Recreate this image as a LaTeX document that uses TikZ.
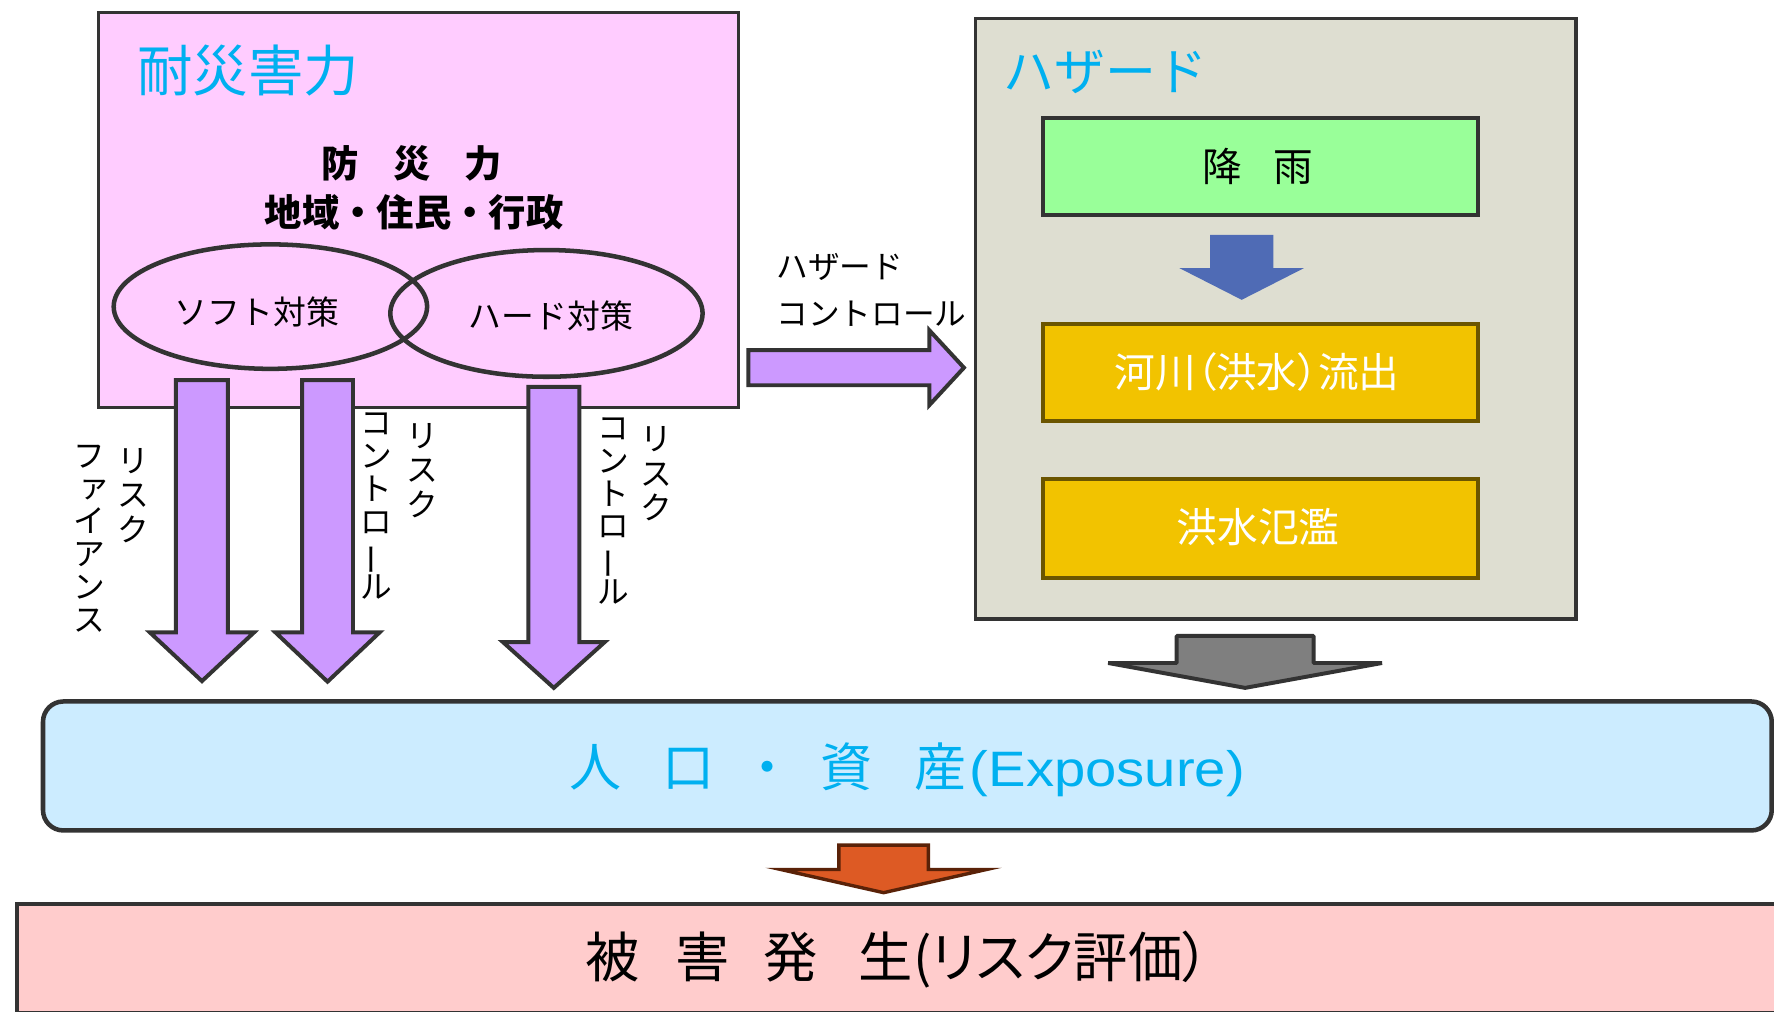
\documentclass[tikz,border=0pt]{standalone}
\usepackage{fontspec}
\usepackage{graphicx}
\setmainfont{Noto Sans CJK JP}
\newfontfamily\jpp{Noto Sans CJK JP}[RawFeature=+palt]
\newfontfamily\lat{Liberation Sans}
\usetikzlibrary{shapes.geometric}

\definecolor{bord}{HTML}{333333}
\definecolor{pinkbg}{HTML}{FFCCFF}
\definecolor{graybg}{HTML}{DEDED1}
\definecolor{greenbg}{HTML}{99FF99}
\definecolor{gold}{HTML}{F2C300}
\definecolor{goldbd}{HTML}{6B5500}
\definecolor{expobg}{HTML}{CCECFF}
\definecolor{dmgbg}{HTML}{FFCCCC}
\definecolor{cyanT}{HTML}{00B0F0}
\definecolor{purpleA}{HTML}{CC99FF}
\definecolor{blueA}{HTML}{4F6BB5}
\definecolor{grayA}{HTML}{7F7F7F}
\definecolor{orangeA}{HTML}{DD5A24}
\definecolor{brownA}{HTML}{5A2208}

\newcommand\jfs[1]{\fontsize{#1}{#1}\selectfont}
\newcommand\vbar{\rotatebox[origin=c]{90}{ー}}
% down block arrow: [style]{cx}{top}{shaft half}{head y}{head half}{tip y}
\newcommand\dnarrow[7][]{%
  \draw[#1] ({#2-#4},{#3}) -- ({#2+#4},{#3}) -- ({#2+#4},{#5}) -- ({#2+#6},{#5})
    -- ({#2},{#7}) -- ({#2-#6},{#5}) -- ({#2-#4},{#5}) -- cycle;}

\begin{document}
\begin{tikzpicture}[x=1pt,y=-1pt,
  box/.style={draw=bord, line width=3pt, inner sep=0pt, anchor=north west},
  lbl/.style={inner sep=0pt},
  vlab/.style={inner sep=0pt, align=center, anchor=north},
  blk/.style={draw=bord, line width=3.5pt, line join=miter, fill=#1},
  ell/.style={draw=bord, line width=4pt, ellipse, inner sep=0pt}]
\useasboundingbox (0,0) rectangle (1568,894);
\begin{scope}
\clip (0,0) rectangle (1568,894);

% boxes
\node[box, fill=pinkbg, minimum width=566pt, minimum height=349pt] (resil) at (85.5,9.5) {};
\node[box, fill=graybg, minimum width=531pt, minimum height=530.5pt] (hazard) at (860.5,15) {};
\node[box, fill=greenbg, line width=3.5pt, minimum width=384pt, minimum height=85.5pt] (rain) at (920.25,102.75) {};
\node[box, fill=gold, draw=goldbd, line width=3.5pt, minimum width=384.5pt, minimum height=86pt] (runoff) at (919.75,284.25) {};
\node[box, fill=gold, draw=goldbd, line width=3.5pt, minimum width=384.5pt, minimum height=87.5pt] (flood) at (919.75,421.25) {};
\node[box, fill=expobg, line width=4pt, rounded corners=18pt, minimum width=1528pt, minimum height=114pt] (expo) at (36,618) {};
\node[box, fill=dmgbg, line width=3pt, minimum width=1600pt, minimum height=96pt] (dmg) at (13.5,797.5) {};

% ellipses
\node[ell, minimum width=277pt, minimum height=110pt] (soft) at (239,271) {};
\node[ell, minimum width=276pt, minimum height=112pt] (hard) at (483,277) {};

% block arrows
\dnarrow[blk=purpleA]{178.5}{336}{23}{559}{46}{602}
\dnarrow[blk=purpleA]{289.5}{336}{22.5}{559}{46}{602.5}
\dnarrow[blk=purpleA]{489.5}{342}{22.5}{567.5}{45}{608}
\draw[blk=purpleA] (661.5,309.5) -- (821.5,309.5) -- (821.5,292) -- (852,325)
  -- (821.5,358) -- (821.5,340.5) -- (661.5,340.5) -- cycle;
\dnarrow[fill=blueA, draw=none]{1097.5}{207.5}{28}{237}{55}{265}
\dnarrow[blk=grayA, line join=bevel]{1100.5}{562}{60.5}{586}{121}{608}
\dnarrow[blk=orangeA, draw=brownA, line width=3pt]{781}{747}{39.5}{768.5}{91}{789}

% texts
\node[lbl, anchor=base west, text=cyanT, font=\jfs{49}] (t1) at (121,80.5) {耐災害力};
\node[lbl, anchor=base west, text=cyanT, font=\jfs{45}] (t2) at (887,80) {ハザード};
\node[lbl, anchor=base, font=\bfseries\jfs{33}] (t3) at (364,156.5) {防\hspace{30pt}災\hspace{30pt}力};
\node[lbl, anchor=base, font=\bfseries\jfs{33}] (t4) at (366,200.5) {地域・住民・行政};
\node[lbl, anchor=base, font=\jfs{29}] (t5) at (227,287) {ソフト対策};
\node[lbl, anchor=base, font=\jfs{29}] (t6) at (487,290) {ハード対策};
\node[lbl, anchor=north west, align=left, font=\fontsize{28}{41}\selectfont] (t7) at (686,224) {ハザード\\コントロール};
\node[lbl, anchor=base, font=\jfs{35}] (t8) at (1112,160.5) {降\hspace{28pt}雨};
\node[lbl, anchor=base, text=white, font=\jpp\jfs{36}] (t9) at (1111,342.5) {河川（洪水）流出};
\node[lbl, anchor=base, text=white, font=\jfs{36}] (t10) at (1112,479.5) {洪水氾濫};
\node[lbl, anchor=base west, text=cyanT, font=\jfs{46}] (t11) at (503,695) {人\hspace{36pt}口\hspace{24.5pt}・\hspace{24pt}資\hspace{36.5pt}産\hspace{3pt}{\lat\fontsize{44}{44}\selectfont\scalebox{1.13}[1]{(Exposure)}}};
\node[lbl, anchor=base west, font=\jpp\jfs{48}] (t12) at (517,864) {被\hspace{32pt}害\hspace{30pt}発\hspace{36pt}生(リスク評価）};

% vertical labels
\node[vlab, font=\fontsize{28}{30.5}\selectfont] (vA1) at (118,396) {リ\\ス\\ク};
\node[vlab, font=\fontsize{28}{29}\selectfont] (vA2) at (79,393) {フ\\\raisebox{2pt}{\hspace{8pt}ァ}\\イ\\ア\\ン\\ス};
\node[vlab, font=\fontsize{28}{30.5}\selectfont] (vB1) at (373,374) {リ\\ス\\ク};
\node[vlab, font=\fontsize{28}{29}\selectfont] (vB2) at (333,365) {コ\\ン\\ト\\ロ\\\vbar\\ル};
\node[vlab, font=\fontsize{28}{30.5}\selectfont] (vC1) at (580,377) {リ\\ス\\ク};
\node[vlab, font=\fontsize{28}{29}\selectfont] (vC2) at (542,369) {コ\\ン\\ト\\ロ\\\vbar\\ル};
\end{scope}
\end{tikzpicture}
\end{document}
